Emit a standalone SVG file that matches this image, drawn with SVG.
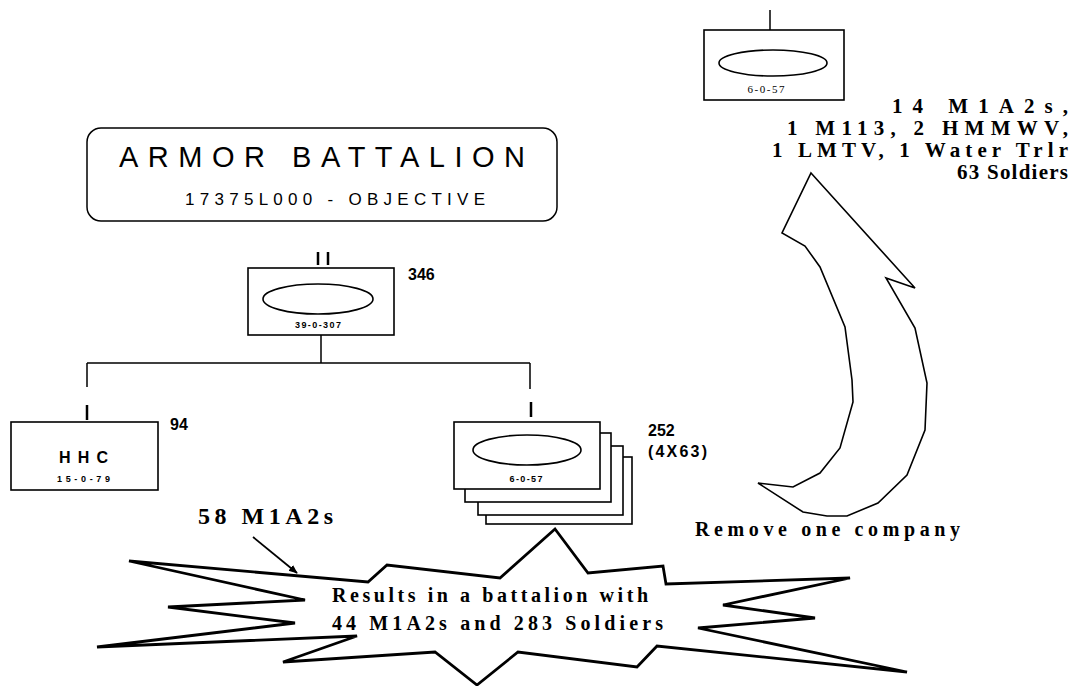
<svg xmlns="http://www.w3.org/2000/svg" width="1075" height="686" viewBox="0 0 1075 686">
<style>
.bg{fill:#fff}
.box{fill:#fff;stroke:#000;stroke-width:1.6}
.ell{fill:#fff;stroke:#000;stroke-width:1.6}
.ln{fill:none;stroke:#000;stroke-width:1.5}
.tick{fill:none;stroke:#000;stroke-width:2.5}
.sans{font-family:"Liberation Sans",Arial,sans-serif;fill:#000}
.serif{font-family:"Liberation Serif","Times New Roman",serif;fill:#000}
.num{font-family:"Liberation Sans",Arial,sans-serif;font-weight:bold;font-size:16px;fill:#000}
.code{font-family:"Liberation Sans",Arial,sans-serif;font-weight:bold;font-size:9px;fill:#000;text-anchor:middle}
.tb{font-family:"Liberation Serif","Times New Roman",serif;font-weight:bold;fill:#000}
.shape{fill:#fff;stroke:#000;stroke-width:1.6;stroke-linejoin:miter}
.burst{fill:#fff;stroke:#000;stroke-width:2.8;stroke-linejoin:miter}
</style>
<defs>
<marker id="ah" viewBox="0 0 10 10" refX="9" refY="5" markerWidth="9" markerHeight="9" markerUnits="userSpaceOnUse" orient="auto">
<path d="M0,1 L10,5 L0,9 Z" fill="#000"/>
</marker>
</defs>
<rect class="bg" x="0" y="0" width="1075" height="686"/>

<g id="title">
<rect x="87" y="128" width="470" height="93" rx="14" fill="#fff" stroke="#000" stroke-width="1.5"/>
<text class="sans" x="119" y="167" font-size="29" textLength="406" lengthAdjust="spacing">ARMOR BATTALION</text>
<text class="sans" x="185" y="205" font-size="17" textLength="300" lengthAdjust="spacing">17375L000 - OBJECTIVE</text>
</g>

<g id="connectors">
<path class="ln" d="M321,335 V363 M87,363 H530 M87,363 V387 M530,363 V389"/>
<path class="ln" d="M770,10 V30" stroke-width="3"/>
<line x1="253" y1="537" x2="297" y2="573" stroke="#000" stroke-width="1.8" marker-end="url(#ah)"/>
</g>

<g id="battalion">
<path class="tick" d="M318,252 V265 M328,252 V265"/>
<rect class="box" x="248" y="268" width="146" height="67"/>
<ellipse class="ell" cx="318" cy="299" rx="55" ry="15"/>
<text class="code" x="318" y="328" textLength="46" lengthAdjust="spacing">39-0-307</text>
<text class="num" x="408" y="280">346</text>
</g>

<g id="hhc">
<path class="tick" d="M87,405 V420"/>
<rect class="box" x="11" y="422" width="147" height="68"/>
<text class="sans" x="59" y="463" font-size="16" font-weight="bold" textLength="49" lengthAdjust="spacing">HHC</text>
<text class="sans" x="57" y="482" font-size="9" font-weight="bold" textLength="53" lengthAdjust="spacing">15-0-79</text>
<text class="num" x="170" y="430">94</text>
</g>

<g id="company-stack">
<rect class="box" x="486" y="457" width="146" height="67"/>
<rect class="box" x="478" y="446" width="145" height="69"/>
<rect class="box" x="465" y="433" width="146" height="69"/>
<rect class="box" x="454" y="422" width="146" height="67"/>
<path class="tick" d="M531,402 V417"/>
<ellipse class="ell" cx="527" cy="450" rx="54" ry="15"/>
<text class="code" x="526" y="482" textLength="33" lengthAdjust="spacing">6-0-57</text>
<text class="num" x="648" y="436">252</text>
<text class="num" x="648" y="457" textLength="59" lengthAdjust="spacing">(4X63)</text>
</g>

<g id="removed-company">
<rect class="box" x="704" y="30" width="140" height="70"/>
<ellipse class="ell" cx="773" cy="63" rx="54" ry="13"/>
<text class="serif" x="766" y="93" font-size="11" text-anchor="middle" textLength="37" lengthAdjust="spacing">6-0-57</text>
</g>

<g id="company-contents">
<text class="tb" x="892" y="113" font-size="21" textLength="176" lengthAdjust="spacing">14 M1A2s,</text>
<text class="tb" x="787" y="135" font-size="21" textLength="281" lengthAdjust="spacing">1 M113, 2 HMMWV,</text>
<text class="tb" x="772" y="157" font-size="21" textLength="296" lengthAdjust="spacing">1 LMTV, 1 Water Trlr</text>
<text class="tb" x="957" y="179" font-size="21" textLength="111" lengthAdjust="spacing">63 Soldiers</text>
</g>

<g id="curved-arrow">
<polygon class="shape" points="811,173 915,288 886,278 915,328 927,383 925,430 907,475 878,503 847,516 827,516 803,512 758,483 793,487 820,473 840,448 853,402 852,380 845,327 820,267 805,246 782,233"/>
<text class="tb" x="695" y="536" font-size="20" textLength="265" lengthAdjust="spacing">Remove one company</text>
</g>

<g id="result-burst">
<polygon class="burst" points="129,561 368,582 387,565 500,578 555,529 588,573 663,566 666,584 850,578 723,605 815,618 698,628 907,672 657,646 637,667 518,652 477,685 435,652 283,662 357,636 97,647 295,623 168,607 305,600"/>
<text class="tb" x="332" y="602" font-size="20" textLength="316" lengthAdjust="spacing">Results in a battalion with</text>
<text class="tb" x="332" y="630" font-size="20" textLength="331" lengthAdjust="spacing">44 M1A2s and 283 Soldiers</text>
</g>

<g id="m1a2-label">
<text class="tb" x="198" y="524" font-size="24" textLength="135" lengthAdjust="spacing">58 M1A2s</text>
</g>
</svg>
